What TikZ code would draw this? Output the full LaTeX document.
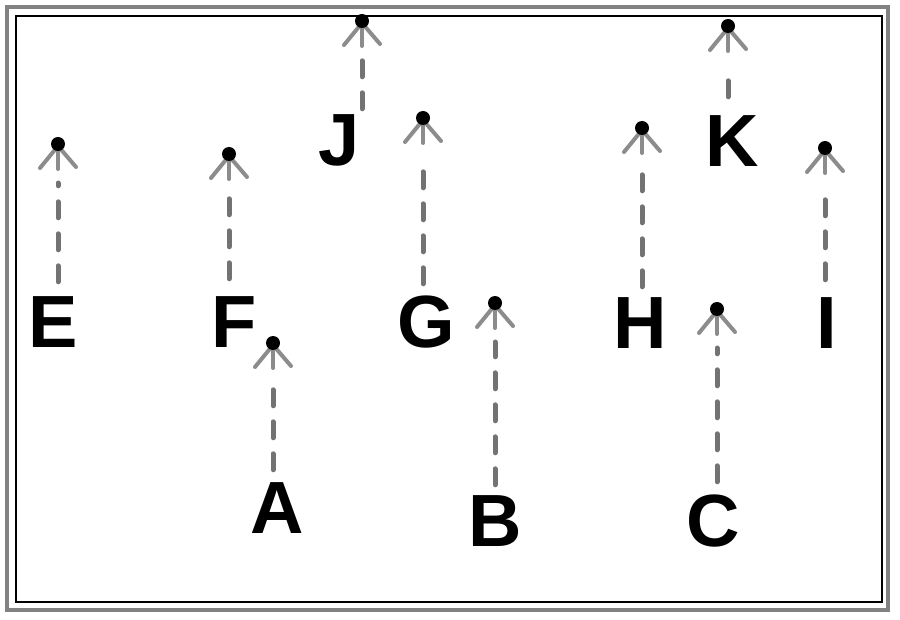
\documentclass[tikz,border=0pt]{standalone}
\usepackage{fontspec}
\setmainfont{Liberation Sans}
\usetikzlibrary{calc}
\definecolor{dashgray}{RGB}{115,115,115}
\definecolor{headgray}{RGB}{140,140,140}
\definecolor{framegray}{RGB}{130,130,130}
\tikzset{
  letter/.style={font=\fontsize{74}{74}\bfseries\selectfont, inner sep=0pt, anchor=base, text height=54pt, text depth=0pt},
  dashline/.style={draw=dashgray, line width=5pt, line cap=round, dash pattern=on 16pt off 16pt},
  headline/.style={draw=headgray, line width=4pt, line cap=round},
  uphead/.pic={
    \draw[headline] (0,0) -- (0,26);
    \draw[headline] (0,3) -- (-18,25);
    \draw[headline] (0,3) -- (18,24);
    \fill[black] (0,1) circle (7pt);
  }
}
\begin{document}
\begin{tikzpicture}[x=1pt,y=-1pt]
\useasboundingbox (0,0) rectangle (900,620);
% frame
\draw[framegray, line width=4.5pt] (7,7) rectangle (888,610);
\draw[black, line width=2.5pt] (16,16) rectangle (882,602);
% letters
\node[letter] (E) at (53,348) {E};
\node[letter] (F) at (234,348) {F};
\node[letter] (G) at (426,348) {G};
\node[letter] (H) at (640,349) {H};
\node[letter] (I) at (827,349) {I};
\node[letter] (A) at (277,533) {A};
\node[letter] (B) at (495,546) {B};
\node[letter] (C) at (713,546) {C};
\node[letter] (J) at (339,166) {J};
\node[letter] (K) at (732,167) {K};
% arrow tips
\coordinate (Et) at (58,143);
\coordinate (Ft) at (229,153);
\coordinate (At) at (273,342);
\coordinate (Jt) at (362,20);
\coordinate (Gt) at (423,117);
\coordinate (Bt) at (495,302);
\coordinate (Ht) at (642,127);
\coordinate (Kt) at (728,25);
\coordinate (It) at (825,147);
\coordinate (Ct) at (717,308);
% arrows
\draw[dashline] ($(E.north -| Et)+(0,-12)$) -- ($(Et)+(0,40)$);
\draw[dashline] ($(F.north -| Ft)+(0,-15)$) -- ($(Ft)+(0,40)$);
\draw[dashline] ($(A.north -| At)+(0,-9)$) -- ($(At)+(0,40)$);
\draw[dashline] ($(J.north -| Jt)+(0,-3)$) -- ($(Jt)+(0,40)$);
\draw[dashline] ($(G.north -| Gt)+(0,-10)$) -- ($(Gt)+(0,40)$);
\draw[dashline] ($(B.north -| Bt)+(0,-7)$) -- ($(Bt)+(0,40)$);
\draw[dashline] ($(H.north -| Ht)+(0,-8)$) -- ($(Ht)+(0,40)$);
\draw[dashline] ($(K.north -| Kt)+(0,-16)$) -- ($(Kt)+(0,40)$);
\draw[dashline] ($(I.north -| It)+(0,-15)$) -- ($(It)+(0,40)$);
\draw[dashline] ($(C.north -| Ct)+(0,-10)$) -- ($(Ct)+(0,40)$);
\foreach \t in {Et,Ft,At,Jt,Gt,Bt,Ht,Kt,It,Ct} \pic at (\t) {uphead};
\end{tikzpicture}
\end{document}
